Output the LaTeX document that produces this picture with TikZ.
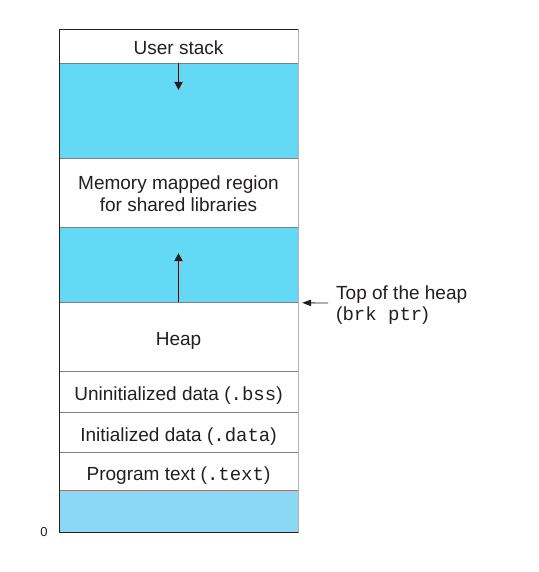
\documentclass[tikz,border=0pt]{standalone}
\usepackage{fontspec}
\setmainfont{Liberation Sans}
\setmonofont{Liberation Mono}
\usetikzlibrary{arrows.meta,positioning,calc}
\definecolor{gapblue}{HTML}{63D9F6}
\definecolor{lowblue}{HTML}{8AD8F4}
\definecolor{sepgray}{HTML}{7F7F7F}
\definecolor{inkdark}{HTML}{231F20}
\tikzset{
  segbox/.style={
    draw=sepgray,
    fill=white,
    minimum width=239pt,
    inner sep=0pt,
    text height=18pt,
    text depth=0pt,
    align=center,
    text=inkdark,
    font=\fontsize{19}{22}\selectfont
  },
  gapbox/.style={segbox,fill=gapblue},
  growarrow/.style={-{Triangle[length=8pt,width=8.5pt]},draw=inkdark,line width=0.9pt}
}

\begin{document}
\begin{tikzpicture}[x=1pt,y=-1pt]
  \fill[white] (0,0) rectangle (538,572);
  \useasboundingbox (0,0) rectangle (538,572);

  \node[segbox,minimum height=34pt] (ustack) at (178.5,46) {User stack};
  \node[gapbox,minimum height=95pt] (stackgap) at (178.5,110.5) {};
  \node[segbox,minimum height=69pt,text height=38pt] (mmap) at (178.5,192.5) {Memory mapped region\\for shared libraries};
  \node[gapbox,minimum height=75pt] (heapgap) at (178.5,264.5) {};
  \node[segbox,minimum height=69pt] (heap) at (178.5,336.5) {Heap};
  \node[segbox,minimum height=41pt] (bss) at (178.5,391.5) {Uninitialized data (\texttt{.bss})};
  \node[segbox,minimum height=40pt] (data) at (178.5,432) {Initialized data (\texttt{.data})};
  \node[segbox,minimum height=38pt] (text) at (178.5,471) {Program text (\texttt{.text})};
  \node[gapbox,fill=lowblue,minimum height=42pt] (low) at (178.5,511) {};

  % outer frame
  \draw[inkdark] (low.south east) -- (low.south west) -- (ustack.north west) -- (ustack.north east);
  \draw[sepgray!60] (ustack.north east) -- (low.south east);

  % growth of stack and heap
  \draw[growarrow] (stackgap.north) -- ++(0,27);
  \draw[growarrow] (heapgap.south) -- ++(0,-49);

  \node[anchor=west,inner sep=0pt,align=left,text=inkdark,font=\fontsize{19}{21}\selectfont] (brklabel) at (336,305) {Top of the heap\\(\texttt{brk ptr})};
  \coordinate (brktip) at ($(heap.north east)+(4,1)$);
  \draw[-{Triangle[length=9pt,width=6.5pt]},draw=inkdark,line width=0.8pt] (brklabel.west -| 328,0) ++(0,-2) -- (brktip);

  \node[text=inkdark,font=\fontsize{13}{15}\selectfont] (zero) at (44,532) {0};
\end{tikzpicture}
\end{document}
